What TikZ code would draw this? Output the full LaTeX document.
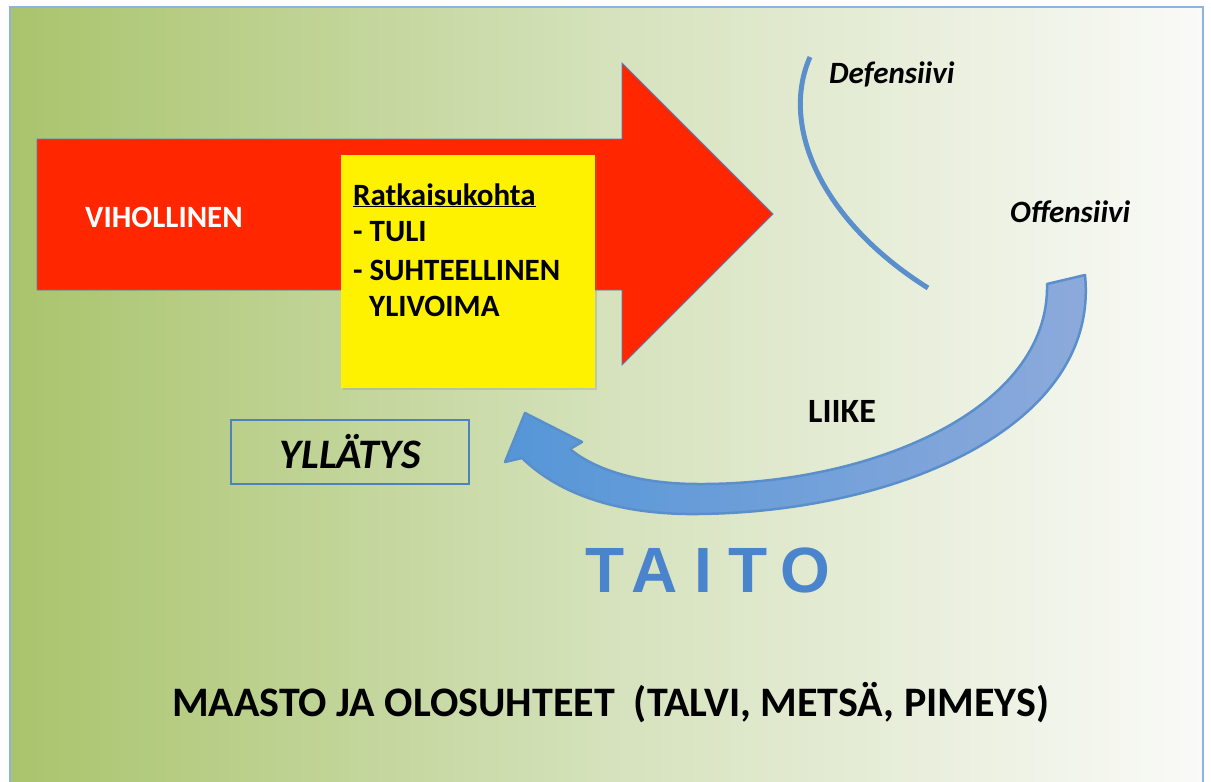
\documentclass[tikz,border=0pt]{standalone}
\usepackage{fontspec}
\setmainfont{Carlito}
\newfontfamily\arialfont{Liberation Sans}
\usetikzlibrary{shadows}
\definecolor{bgL}{HTML}{A9C46C}
\definecolor{bgM}{HTML}{D5E2BC}
\definecolor{bgR}{HTML}{FAFAF8}
\definecolor{frameblue}{HTML}{8DB3E2}
\definecolor{arrowred}{HTML}{FF2600}
\definecolor{edgeblue}{HTML}{4F81BD}
\definecolor{arcblue}{HTML}{5B8FCB}
\definecolor{liikeL}{HTML}{5596D8}
\definecolor{liikeR}{HTML}{8EAADB}
\definecolor{taitoblue}{HTML}{4A84CC}
\begin{document}
\begin{tikzpicture}[x=1pt,y=-1pt,
  txt/.style={inner sep=0pt, font=\bfseries\fontsize{31}{35}\selectfont, anchor=base west},
  itxt/.style={inner sep=0pt, font=\bfseries\itshape\fontsize{31}{35}\selectfont, anchor=base west},
  taitoletter/.style={inner sep=0pt, anchor=base, text=taitoblue, font=\arialfont\bfseries\fontsize{64}{70}\selectfont}]
\useasboundingbox (0,0) rectangle (1211,782);
\fill[white] (0,0) rectangle (1211,782);
\shade[left color=bgL, right color=bgR, middle color=bgM] (10,7) rectangle (1203,800);
\draw[frameblue, line width=2pt] (10,7) rectangle (1203,800);
% red arrow
\draw[fill=arrowred, draw=edgeblue, line width=0.8pt, line join=miter]
  (37,139) -- (622,139) -- (622,63) -- (773,214) -- (622,365) -- (622,290) -- (37,290) -- cycle;
\node[txt, text=white] (vih) at (85,227) {VIHOLLINEN};
% yellow box
\node[fill=yellow, inner sep=0pt, minimum width=254pt, minimum height=233pt, anchor=north west,
  drop shadow={shadow xshift=2pt, shadow yshift=-2pt, opacity=0.25}] (box) at (341,155) {};
\node[txt] (r1) at (353,205) {\underline{Ratkaisukohta}};
\node[txt] (r2) at (353,241) {- TULI};
\node[txt] (r3) at (353,280) {- SUHTEELLINEN};
\node[txt] (r4) at (369,316) {YLIVOIMA};
% defensive arc
\draw[arcblue, line width=5pt] (810,57) .. controls (780,125) and (820,220) .. (928,288);
\node[itxt] (def) at (829,83) {Defensiivi};
\node[itxt] (off) at (1010,222) {Offensiivi};
% curved arrow
\draw[draw=arcblue, line width=2.5pt, line join=round, left color=liikeL, right color=liikeR]
  (1085,275) -- (1047,284)
  .. controls (1050,410) and (870,485) .. (698,484)
  .. controls (640,484) and (595,470) .. (570,449)
  -- (582,442) -- (525,413) -- (505,462) -- (522,458)
  .. controls (560,495) and (620,515) .. (698,514)
  .. controls (900,512) and (1100,425) .. (1085,275) -- cycle;
\node[txt, font=\bfseries\fontsize{34}{38}\selectfont] (liike) at (808,422) {LIIKE};
% yllatys
\node[draw=edgeblue, line width=1.5pt, minimum width=238pt, minimum height=64pt, inner sep=0pt, anchor=north west] (yl) at (230,419) {};
\node[inner sep=0pt, font=\bfseries\itshape\fontsize{42}{46}\selectfont, anchor=base] (ylt) at (350,468) {YLLÄTYS};
% TAITO
\node[taitoletter] (t1) at (605,592) {T};
\node[taitoletter] (t2) at (655,592) {A};
\node[taitoletter] (t3) at (703,592) {I};
\node[taitoletter] (t4) at (748,592) {T};
\node[taitoletter] (t5) at (805,592) {O};
% bottom
\node[inner sep=0pt, font=\bfseries\fontsize{42}{46}\selectfont, anchor=base west] (maasto) at (172,716) {MAASTO JA OLOSUHTEET\ \ (TALVI, METSÄ, PIMEYS)};
\end{tikzpicture}
\end{document}
